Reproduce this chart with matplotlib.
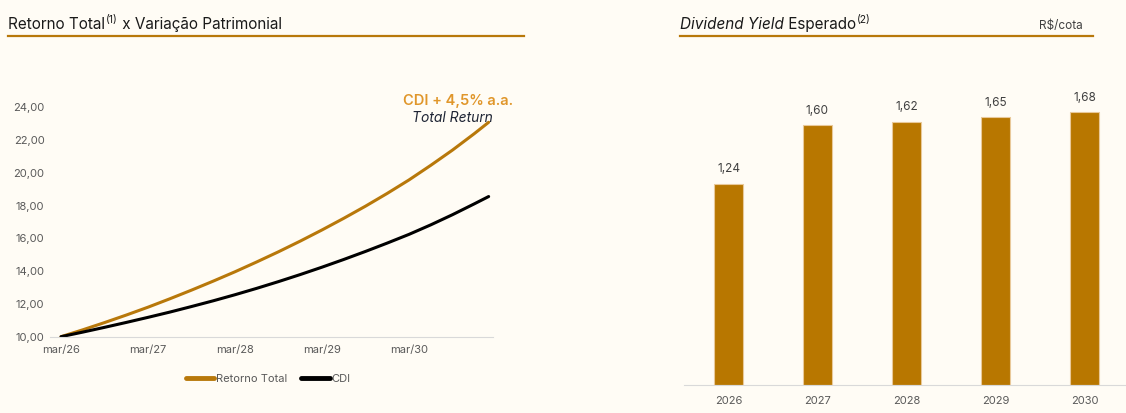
import matplotlib
matplotlib.use("Agg")
import matplotlib.pyplot as plt
from matplotlib.lines import Line2D

# dados - retorno total x CDI (meses a partir de mar/26)
months = [0, 3, 6, 9, 12, 15, 18, 21, 24, 27, 30, 33, 36, 39, 42, 45, 48, 51, 54, 57, 59]
retorno_total = [10.00, 10.42, 10.86, 11.32, 11.80, 12.31, 12.84, 13.39, 13.96, 14.56, 15.18,
                 15.83, 16.51, 17.22, 17.96, 18.74, 19.56, 20.45, 21.38, 22.38, 23.08]
cdi = [10.00, 10.28, 10.57, 10.87, 11.18, 11.50, 11.84, 12.19, 12.56, 12.95, 13.36,
       13.79, 14.24, 14.71, 15.20, 15.71, 16.24, 16.82, 17.44, 18.10, 18.55]
date_ticks = [0, 12, 24, 36, 48]
date_labels = ["mar/26", "mar/27", "mar/28", "mar/29", "mar/30"]
y_ticks = [10, 12, 14, 16, 18, 20, 22, 24]

# dados - dividend yield esperado
years = ["2026", "2027", "2028", "2029", "2030"]
dividend = [1.24, 1.60, 1.62, 1.65, 1.68]

BG = "#FFFCF5"
GOLD = "#B87700"
LINE_GOLD = "#B8780A"
LIGHT_GOLD = "#E0962A"
GRAY = "#595959"
DARK = "#1A1A1A"

plt.rcParams["font.family"] = ["Inter", "DejaVu Sans"]

W, H = 1126, 413
fig = plt.figure(figsize=(W / 100, H / 100), dpi=100, facecolor=BG)


def px(x, y):
    return x / W, 1 - y / H


# ---------- grafico de linhas ----------
ax1 = fig.add_axes([50 / W, 1 - 336.7 / H, 443 / W, 245.9 / H])
ax1.set_facecolor(BG)
ax1.plot(months, retorno_total, color=LINE_GOLD, lw=2.2, label="Retorno Total", solid_capstyle="round")
ax1.plot(months, cdi, color="black", lw=2.2, label="CDI", solid_capstyle="round")
ax1.set_xlim(-1.52, 59.6)
ax1.set_ylim(10, 25)
ax1.set_xticks(date_ticks)
ax1.set_xticklabels(date_labels)
ax1.set_yticks(y_ticks)
ax1.set_yticklabels([f"{v:.2f}".replace(".", ",") for v in y_ticks])
ax1.tick_params(length=0, labelsize=8, labelcolor=GRAY)
ax1.tick_params(axis="x", pad=6)
ax1.tick_params(axis="y", pad=4)
for s in ["top", "right", "left"]:
    ax1.spines[s].set_visible(False)
ax1.spines["bottom"].set_color("#D9D9D9")

leg = fig.legend(loc="center", bbox_to_anchor=px(268, 379), ncol=2, frameon=False,
                 fontsize=8, handlelength=2.6, handletextpad=0.15, columnspacing=1.2)
for t in leg.get_texts():
    t.set_color(GRAY)
for h in leg.legend_handles:
    h.set_linewidth(3.5)

fig.text(*px(513, 101), "CDI + 4,5% a.a.", color=LIGHT_GOLD, fontsize=10.5, fontweight="semibold",
         ha="right", va="center")
fig.text(*px(412, 118), "Total Return", color="#1F2535", fontsize=10, style="italic",
         ha="left", va="center")

# ---------- grafico de barras ----------
ax2 = fig.add_axes([684 / W, 1 - 385 / H, 445 / W, 325 / H])
ax2.set_facecolor(BG)
xpos = range(len(years))
bars = ax2.bar(xpos, dividend, width=0.32, color=GOLD, edgecolor="#E9C99A", linewidth=0.8)
ax2.set_xlim(-0.5, 4.5)
ax2.set_ylim(0, 2.0)
ax2.set_xticks(list(xpos))
ax2.set_xticklabels(years)
ax2.set_yticks([])
ax2.tick_params(length=0, labelsize=8, labelcolor=GRAY, pad=8)
for s in ["top", "right", "left"]:
    ax2.spines[s].set_visible(False)
ax2.spines["bottom"].set_color("#D9D9D9")
ax2.bar_label(bars, labels=[f"{v:.2f}".replace(".", ",") for v in dividend],
              padding=6, fontsize=8.5, color="#404040")

# ---------- titulos ----------
t1 = fig.text(*px(8, 29), "Retorno Total", fontsize=11, color=DARK, va="baseline")
t1s = plt.annotate("(1)", xy=(1, 0), xycoords=t1, xytext=(0.6, 5), textcoords="offset points",
                   fontsize=7.5, color=DARK, va="bottom", annotation_clip=False)
plt.annotate(" x Variação Patrimonial", xy=(1, 0), xycoords=t1s, xytext=(0, -5),
             textcoords="offset points", fontsize=11, color=DARK, va="bottom",
             annotation_clip=False)
fig.add_artist(Line2D([8 / W, 524 / W], [1 - 36 / H] * 2, color=LINE_GOLD, lw=1.6))

t2 = fig.text(*px(680, 29), "Dividend Yield", fontsize=11, color=DARK, style="italic",
              va="baseline")
t2b = plt.annotate(" Esperado", xy=(1, 0), xycoords=t2, fontsize=11, color=DARK,
                   va="bottom", annotation_clip=False)
plt.annotate("(2)", xy=(1, 0), xycoords=t2b, xytext=(0.6, 5), textcoords="offset points",
             fontsize=7.5, color=DARK, va="bottom", annotation_clip=False)
fig.text(*px(1083, 26), "R$/cota", fontsize=8.5, color="#404040", ha="right", va="center")
fig.add_artist(Line2D([680 / W, 1093 / W], [1 - 36 / H] * 2, color=LINE_GOLD, lw=1.6))

fig.savefig("out.png", dpi=100, facecolor=BG)
